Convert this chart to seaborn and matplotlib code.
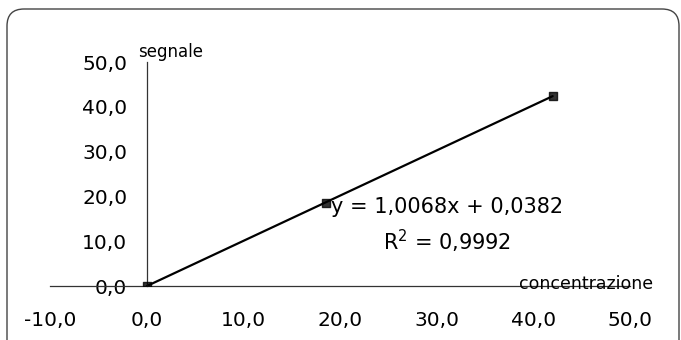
import matplotlib
matplotlib.use("Agg")
import matplotlib.pyplot as plt
import pandas as pd
import seaborn as sns
from matplotlib.patches import FancyBboxPatch

# data
concentrazione = [0.0, 18.5, 42.0]
segnale = [0.0, 18.6, 42.4]
x_ticks = [-10, 0, 10, 20, 30, 40, 50]
y_ticks = [0, 10, 20, 30, 40, 50]
equation = "y = 1,0068x + 0,0382"
r_squared = "R$^2$ = 0,9992"


def fmt(v):
    return f"{v:.1f}".replace(".", ",")


sns.set_style("white")
plt.rcParams['font.family'] = ['DejaVu Sans']
plt.rcParams['text.color'] = 'black'

df = pd.DataFrame({"concentrazione": concentrazione, "segnale": segnale})

fig = plt.figure(figsize=(6.81, 3.40), dpi=100)
ax = fig.add_axes([50 / 681, 1 - 286 / 340, 580 / 681, 224 / 340])

sns.regplot(data=df, x="concentrazione", y="segnale", ax=ax, ci=None,
            marker="s", color="black",
            scatter_kws={"s": 28, "zorder": 3},
            line_kws={"linewidth": 1.6, "color": "black"})

ax.set_xlim(-10, 50)
ax.set_ylim(0, 50)
ax.set_xticks(x_ticks)
ax.set_yticks(y_ticks)
ax.set_xticklabels([fmt(v) for v in x_ticks])
ax.set_yticklabels([fmt(v) for v in y_ticks])
ax.set_xlabel("")
ax.set_ylabel("")

ax.spines['left'].set_position(('data', 0))
ax.spines['bottom'].set_position(('data', 0))
ax.spines['top'].set_visible(False)
ax.spines['right'].set_visible(False)
for s in ['left', 'bottom']:
    ax.spines[s].set_color("#333333")
    ax.spines[s].set_linewidth(0.9)

ax.tick_params(axis='x', direction='out', length=5, width=0.9, color="#333333",
               pad=13, labelsize=14.5, labelcolor="black")
ax.tick_params(axis='y', direction='out', length=3, width=0.9, color="#333333",
               pad=11, labelsize=14.5, labelcolor="black")
ax.patch.set_alpha(0)

ax.text(-0.9, 52.3, "segnale", fontsize=12, ha='left', va='center', clip_on=False)
ax.text(52.4, 0.4, "concentrazione", fontsize=12.5, ha='right', va='center', clip_on=False)

ax.text(31.1, 17.6, equation, fontsize=15, ha='center', va='center')
ax.text(31.1, 10.0, r_squared, fontsize=15, ha='center', va='center')

border = FancyBboxPatch((7 / 681, -0.05), 672 / 681, 1.05 - 9 / 340,
                        boxstyle="round,pad=0,rounding_size=0.025",
                        transform=fig.transFigure, fill=False,
                        edgecolor="#444444", linewidth=1.0, clip_on=False,
                        mutation_aspect=2.0)
fig.patches.append(border)

fig.savefig("out.png", dpi=100)
